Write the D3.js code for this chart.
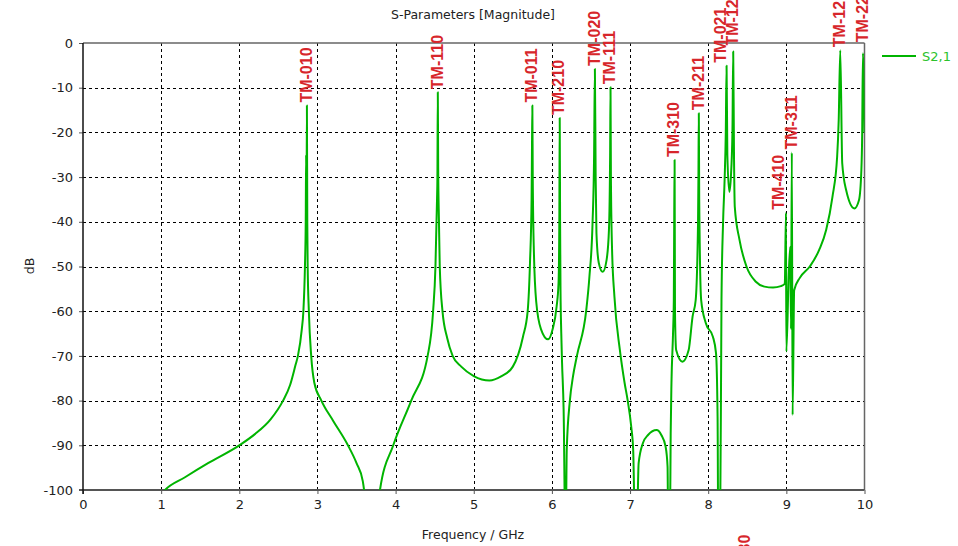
<!DOCTYPE html>
<html>
<head>
<meta charset="utf-8">
<script src="https://cdn.jsdelivr.net/npm/d3@7"></script>
<style>
  body { margin: 0; background: #fff; }
  svg { display: block; font-family: 'DejaVu Sans', sans-serif; }
</style>
</head>
<body>
<svg id="chart" width="958" height="546"></svg>
<script>
// S2,1 magnitude (GHz, dB); values below -100 are clipped by the axis
const freq = [
	1.00, 1.05, 1.30, 1.60, 2.00, 2.20, 2.40, 2.56, 2.65, 2.72, 2.75, 2.80, 2.82, 2.84, 2.85, 2.855, 2.86, 2.865, 2.87, 2.875,
	2.89, 2.92, 2.96, 3.05, 3.20, 3.39, 3.50, 3.58, 3.62, 3.70,
	3.78, 3.80, 3.97, 4.20, 4.41, 4.48, 4.51, 4.53, 4.535, 4.54, 4.545, 4.555, 4.565, 4.60, 4.66, 4.73, 4.84, 5.00, 5.20, 5.35,
	5.50, 5.63, 5.69, 5.72, 5.74, 5.745, 5.75, 5.755, 5.77, 5.80, 5.86, 5.95, 6.01, 6.06, 6.085, 6.095, 6.10, 6.105, 6.11, 6.12,
	6.13, 6.15, 6.175, 6.19, 6.23, 6.27, 6.32, 6.44, 6.48, 6.52, 6.54, 6.55, 6.56, 6.57, 6.60, 6.65, 6.70, 6.73, 6.745, 6.75,
	6.755, 6.77, 6.80, 6.87, 6.93, 6.97, 7.015, 7.04, 7.07, 7.08, 7.11, 7.165, 7.23, 7.34, 7.40, 7.455, 7.48, 7.49, 7.51, 7.52,
	7.53, 7.55, 7.56, 7.565, 7.57, 7.575, 7.59, 7.67, 7.75, 7.80, 7.84, 7.87, 7.875, 7.88, 7.885, 7.91, 7.97, 8.06, 8.10, 8.12,
	8.13, 8.15, 8.17, 8.19, 8.21, 8.225, 8.235, 8.245, 8.27, 8.29, 8.31, 8.32, 8.33, 8.34, 8.40, 8.49, 8.61, 8.72, 8.83, 8.93,
	8.98, 8.995, 9.00, 9.03, 9.05, 9.06, 9.07, 9.08, 9.10, 9.17, 9.30, 9.42, 9.51, 9.59, 9.65, 9.67, 9.69, 9.715, 9.765, 9.87,
	9.93, 9.96, 9.97, 9.98, 10.0
];
const s21 = [
	-101, -100, -97.2, -94, -90, -87.5, -84.2, -80, -76.5, -72, -70, -64, -60, -50, -40, -25, -38, -14, -40, -50,
	-60, -70, -76, -80, -84.5, -90, -94, -98, -104, -130,
	-104, -100, -90, -80, -70, -60, -50, -35, -30, -11, -28, -40, -50, -60, -66, -70, -72.4, -74.5, -75.5, -74.6,
	-72.4, -65.7, -60, -49, -35, -24, -14, -30, -47, -58, -64, -66.3, -64, -59, -53.7, -40, -16.8, -40, -55, -65,
	-71.6, -82, -115, -91, -80, -74.6, -70, -59.7, -52.3, -40.3, -25, -5.8, -30, -42.5, -49.2, -51.2, -48.5, -41.8, -25, -9.9,
	-30, -46.3, -56.7, -68.7, -76, -80, -85.8, -91, -115, -115, -94, -89.5, -87.7, -86.6, -87.7, -90.3, -94.8, -115, -110, -87.3,
	-76, -65, -57.5, -40, -26.2, -60, -68.7, -71.3, -68.7, -61.2, -57.5, -40, -30, -15.7, -35, -57.5, -62.7, -65.7, -69.4, -83.6,
	-115, -115, -57.5, -40.3, -30.6, -20, -5.1, -25, -33.3, -30, -20, -1.9, -25, -36.6, -44, -50, -53.4, -54.5, -54.7, -54.4,
	-53.9, -38, -69, -51.9, -45.6, -64, -24.5, -83.2, -55.3, -52.6, -50, -46.3, -41.8, -34.4, -25.4, -17.2, -1.6, -26.9, -32.9, -37,
	-35.1, -28.4, -20.8, -2.3, -20
];

// resonance labels: mode name, frequency and the peak level they sit on
const modeNames = ['TM-010', 'TM-110', 'TM-011', 'TM-210', 'TM-020', 'TM-111', 'TM-310', 'TM-211',
	'TM-021', 'TM-120', 'TM-030', 'TM-410', 'TM-311', 'TM-121', 'TM-220'];
const modeFreq = [2.865, 4.54, 5.75, 6.10, 6.55, 6.75, 7.57, 7.88, 8.235, 8.32, 8.47, 9.00, 9.07, 9.69, 9.98];
const modePeak = [-14, -11, -14, -16.8, -5.8, -9.9, -26.2, -15.7, -5.1, -1.9, -123, -38, -24.5, -1.6, -2.3];

const xTicks = [0, 1, 2, 3, 4, 5, 6, 7, 8, 9, 10];
const yTicks = [0, -10, -20, -30, -40, -50, -60, -70, -80, -90, -100];

const svg = d3.select('#chart');
const plotL = 83, plotR = 864.5, plotT = 43, plotB = 490;
const green = '#00b400';
const red = '#d7262b';

const x = d3.scaleLinear().domain([0, 10]).range([plotL, plotR]);
const y = d3.scaleLinear().domain([-100, 0]).range([plotB, plotT]);

svg.append('defs').append('clipPath').attr('id', 'plot')
	.append('rect').attr('x', plotL).attr('y', plotT).attr('width', plotR - plotL).attr('height', plotB - plotT);

// dashed grid
const grid = svg.append('g').attr('stroke', '#000').attr('stroke-dasharray', '3,3').attr('stroke-width', 1);
grid.selectAll('line.v').data(xTicks.slice(1, -1)).join('line')
	.attr('class', 'v')
	.attr('x1', (d) => Math.round(x(d)) + 0.5).attr('x2', (d) => Math.round(x(d)) + 0.5)
	.attr('y1', plotT).attr('y2', plotB);
grid.selectAll('line.h').data(yTicks.slice(1, -1)).join('line')
	.attr('class', 'h')
	.attr('x1', plotL).attr('x2', plotR)
	.attr('y1', (d) => Math.round(y(d)) + 0.5).attr('y2', (d) => Math.round(y(d)) + 0.5);

// axes
const xAxis = svg.append('g')
	.attr('transform', `translate(0,${plotB})`)
	.call(d3.axisBottom(x).tickValues(xTicks).tickSize(4).tickPadding(6).tickFormat((d) => String(d)));
const yAxis = svg.append('g')
	.attr('transform', `translate(${plotL},0)`)
	.call(d3.axisLeft(y).tickValues(yTicks).tickSize(4).tickPadding(6).tickFormat((d) => String(d)));
[xAxis, yAxis].forEach((a) => {
	a.select('.domain').remove();
	a.selectAll('line').attr('stroke', '#555');
	a.selectAll('text').attr('font-size', 13).attr('font-family', 'DejaVu Sans').attr('fill', '#222');
});

// frame
svg.append('line').attr('x1', plotL).attr('x2', plotR).attr('y1', plotT).attr('y2', plotT).attr('stroke', '#666').attr('stroke-width', 1.5);
svg.append('line').attr('x1', plotR).attr('x2', plotR).attr('y1', plotT).attr('y2', plotB).attr('stroke', '#666').attr('stroke-width', 1.5);
svg.append('line').attr('x1', plotL - 4).attr('x2', plotR).attr('y1', plotB).attr('y2', plotB).attr('stroke', '#555').attr('stroke-width', 2);
svg.append('line').attr('x1', plotL).attr('x2', plotL).attr('y1', plotT).attr('y2', plotB + 4).attr('stroke', '#111').attr('stroke-width', 1.5);

// S2,1 curve (monotone keeps the resonance flanks smooth without overshoot)
const pts = freq.map((f, i) => [f, s21[i]]);
svg.append('path')
	.datum(pts)
	.attr('clip-path', 'url(#plot)')
	.attr('fill', 'none')
	.attr('stroke', green)
	.attr('stroke-width', 2)
	.attr('stroke-linejoin', 'round')
	.attr('d', d3.line().curve(d3.curveMonotoneX).x((d) => x(d[0])).y((d) => y(d[1])));

// mode labels, rotated, sitting just above each peak
const nudgeX = { 'TM-021': -5, 'TM-410': -7 };
const nudgeY = { 'TM-220': -8, 'TM-120': -3 };
svg.append('g').selectAll('text')
	.data(modeNames)
	.join('text')
	.attr('transform', (d, i) =>
		`translate(${x(modeFreq[i]) - 1 + (nudgeX[d] || 0)},${y(modePeak[i]) - 3 + (nudgeY[d] || 0)}) rotate(-90)`)
	.attr('dy', '0.36em')
	.attr('font-family', 'Liberation Sans, Arial, sans-serif')
	.attr('font-weight', 'bold')
	.attr('font-size', 16)
	.attr('fill', red)
	.text((d) => d);

// titles
svg.append('text').attr('x', 473).attr('y', 19).attr('text-anchor', 'middle')
	.attr('font-size', 12.5).attr('fill', '#222').text('S-Parameters [Magnitude]');
svg.append('text').attr('x', 473).attr('y', 539).attr('text-anchor', 'middle')
	.attr('font-size', 12.5).attr('fill', '#222').text('Frequency / GHz');
svg.append('text').attr('transform', 'translate(34,266) rotate(-90)').attr('text-anchor', 'middle')
	.attr('font-size', 12.5).attr('fill', '#222').text('dB');

// legend
svg.append('line').attr('x1', 882).attr('x2', 916).attr('y1', 56).attr('y2', 56)
	.attr('stroke', green).attr('stroke-width', 2);
svg.append('text').attr('x', 922).attr('y', 61).attr('font-size', 13).attr('fill', '#2cc22c').text('S2,1');
</script>
</body>
</html>
